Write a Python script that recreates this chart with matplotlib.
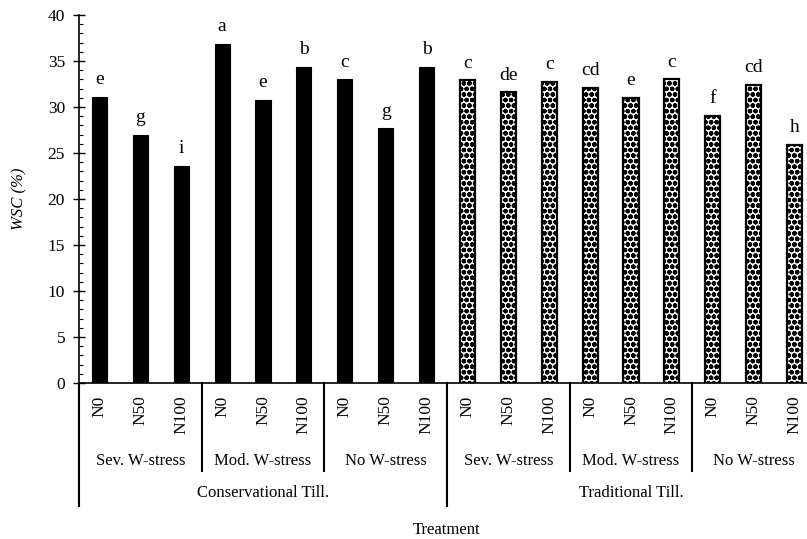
import matplotlib
matplotlib.use("Agg")
import matplotlib.pyplot as plt
import matplotlib.transforms as mtransforms

plt.rcParams["font.family"] = ["Liberation Serif", "DejaVu Serif"]
plt.rcParams["hatch.linewidth"] = 1.6

# Water-soluble carbohydrate content by treatment
nitrogen = ["N0", "N50", "N100"] * 6
stress = ["Sev. W-stress", "Mod. W-stress", "No W-stress"] * 2
tillage = ["Conservational Till.", "Traditional Till."]
wsc = [31.1, 27.0, 23.6, 36.9, 30.8, 34.4, 33.0, 27.7, 34.4,
       32.9, 31.6, 32.75, 32.1, 31.0, 33.0, 29.05, 32.4, 25.9]
letters = ["e", "g", "i", "a", "e", "b", "c", "g", "b",
           "c", "de", "c", "cd", "e", "c", "f", "cd", "h"]

fig = plt.figure(figsize=(8.07, 5.39), dpi=100)
W, H = 807, 539
ax = fig.add_axes([79 / W, (H - 383) / H, 736 / W, 368 / H])

x = list(range(len(wsc)))
for i, v in enumerate(wsc):
    if i < 9:
        ax.bar(i, v, width=0.37, color="black", edgecolor="black", linewidth=0.8)
    else:
        ax.bar(i, v, width=0.37, facecolor="white", edgecolor="black",
               linewidth=1.6, hatch="ooo")
    ax.annotate(letters[i], (i, v), xytext=(0, 9), textcoords="offset points",
                ha="center", va="baseline", fontsize=14)

ax.set_xlim(-0.5, 17.5)
ax.set_ylim(0, 40)
ax.set_yticks(range(0, 41, 5))
ax.set_yticks(range(0, 41, 1), minor=True)
ax.tick_params(axis="y", which="major", direction="inout", length=8, width=1,
               labelsize=12.5, pad=6)
ax.tick_params(axis="y", which="minor", direction="in", length=3, width=0.8)
ax.set_xticks(x)
ax.set_xticklabels(nitrogen, rotation=90, fontsize=12.5)
ax.tick_params(axis="x", length=0, pad=9)

for s in ["top", "right"]:
    ax.spines[s].set_visible(False)
for s in ["left", "bottom"]:
    ax.spines[s].set_linewidth(1.2)

ax.set_ylabel("WSC (%)", fontsize=12, fontstyle="italic", labelpad=15)

trans = mtransforms.blended_transform_factory(ax.transData, ax.transAxes)

def yfrac(py):
    return (383 - py) / 368

# group separators below the axis
for b in [2.5, 5.5, 11.5, 14.5]:
    ax.plot([b, b], [0, yfrac(471)], transform=trans, color="black",
            lw=1.5, clip_on=False)
for b in [-0.5, 8.5]:
    ax.plot([b, b], [0, yfrac(506)], transform=trans, color="black",
            lw=1.5, clip_on=False)

for g, name in enumerate(stress):
    ax.text(3 * g + 1, yfrac(461), name, transform=trans, ha="center",
            va="center", fontsize=12)
for t, name in enumerate(tillage):
    ax.text(9 * t + 4, yfrac(493), name, transform=trans, ha="center",
            va="center", fontsize=12)

ax.text(8.5, yfrac(530), "Treatment", transform=trans, ha="center",
        va="center", fontsize=12)

fig.savefig("out.png", dpi=100)
